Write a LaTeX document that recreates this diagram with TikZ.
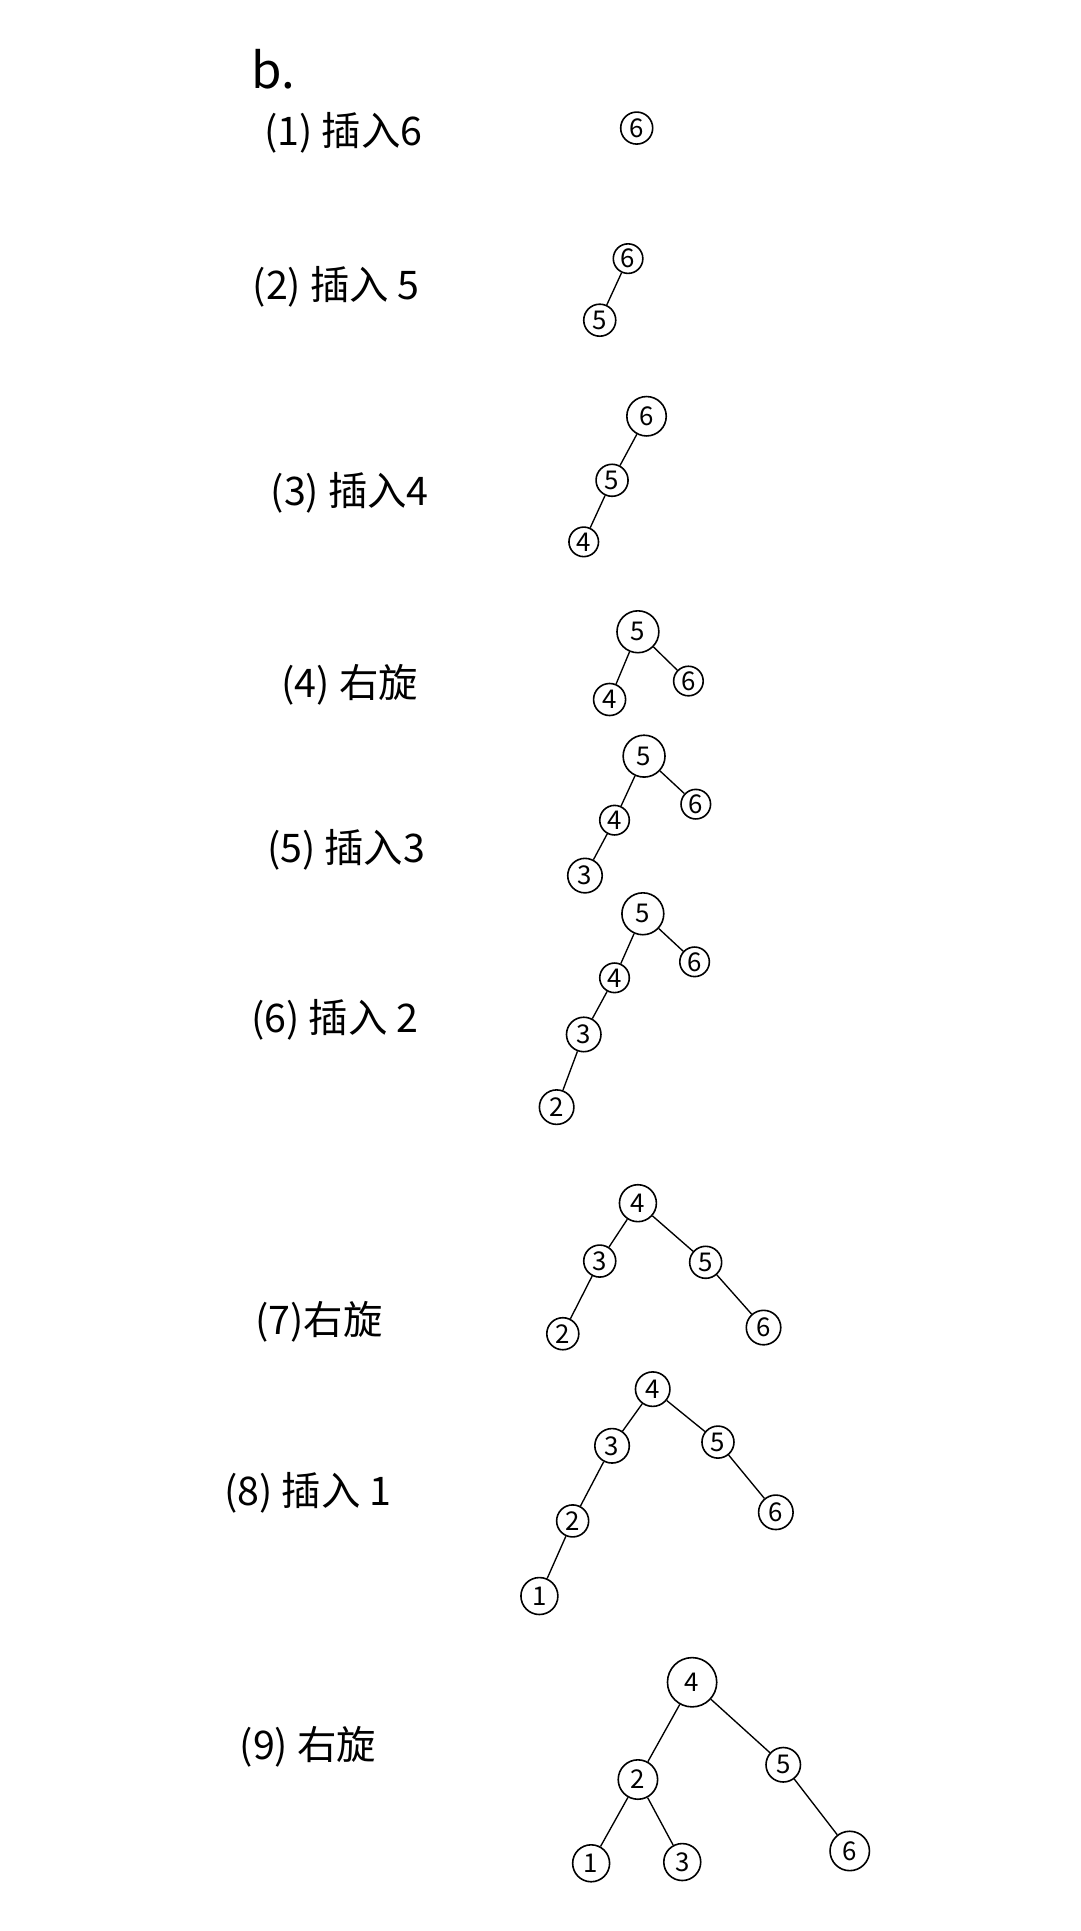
\documentclass[tikz,border=0pt]{standalone}
\usepackage{fontspec}
\setmainfont{Noto Sans CJK SC}
\newfontfamily\lblfont{Noto Sans CJK SC}
\begin{document}
\begin{tikzpicture}[x=1pt,y=-1pt,
  lbl/.style={font=\lblfont\fontsize{32}{36}\selectfont,inner sep=0pt},
  nd/.style={circle,draw,line width=1.3pt,inner sep=0pt,minimum size=#1,font=\lblfont\fontsize{21}{24}\selectfont},
  ed/.style={line width=1.1pt}]
\useasboundingbox[fill=white] (0,0) rectangle (877,1568);
% title
\node[font=\lblfont\fontsize{40}{44}\selectfont,inner sep=0pt] (title) at (222,56) {b.};
% (1)
\node[lbl] (l1) at (279,108) {(1) 插入6};
\node[nd=26pt] (a6) at (517,104) {6};
% (2)
\node[lbl] (l2) at (273,233) {(2) 插入 5};
\node[nd=24pt] (b6) at (510,210) {6};
\node[nd=26pt] (b5) at (487,260) {5};
\draw[ed] (b6) -- (b5);
% (3)
\node[lbl] (l3) at (284,400) {(3) 插入4};
\node[nd=32pt] (c6) at (525,338) {6};
\node[nd=26pt] (c5) at (497,390) {5};
\node[nd=24pt] (c4) at (474,440) {4};
\draw[ed] (c6) -- (c5);
\draw[ed] (c5) -- (c4);
% (4)
\node[lbl] (l4) at (284,556) {(4) 右旋};
\node[nd=34pt] (d5) at (518,513) {5};
\node[nd=26pt] (d4) at (495,568) {4};
\node[nd=24pt] (d6) at (559,553) {6};
\draw[ed] (d5) -- (d4);
\draw[ed] (d5) -- (d6);
% (5)
\node[lbl] (l5) at (281,690) {(5) 插入3};
\node[nd=34pt] (e5) at (523,614) {5};
\node[nd=24pt] (e6) at (565,653) {6};
\node[nd=24pt] (e4) at (499,666) {4};
\node[nd=28pt] (e3) at (475,711) {3};
\draw[ed] (e5) -- (e6);
\draw[ed] (e5) -- (e4);
\draw[ed] (e4) -- (e3);
% (6)
\node[lbl] (l6) at (272,828) {(6) 插入 2};
\node[nd=34pt] (f5) at (522,742) {5};
\node[nd=24pt] (f6) at (564,781) {6};
\node[nd=24pt] (f4) at (499,794) {4};
\node[nd=28pt] (f3) at (474,840) {3};
\node[nd=28pt] (f2) at (452,899) {2};
\draw[ed] (f5) -- (f6);
\draw[ed] (f5) -- (f4);
\draw[ed] (f4) -- (f3);
\draw[ed] (f3) -- (f2);
% (7)
\node[lbl] (l7) at (259,1073) {(7)右旋};
\node[nd=30pt] (g4) at (518,977) {4};
\node[nd=26pt] (g3) at (487,1024) {3};
\node[nd=26pt] (g5) at (573,1025) {5};
\node[nd=26pt] (g2) at (457,1083) {2};
\node[nd=28pt] (g6) at (620,1078) {6};
\draw[ed] (g4) -- (g3);
\draw[ed] (g4) -- (g5);
\draw[ed] (g3) -- (g2);
\draw[ed] (g5) -- (g6);
% (8)
\node[lbl] (l8) at (250,1212) {(8) 插入 1};
\node[nd=28pt] (h4) at (530,1128) {4};
\node[nd=28pt] (h3) at (497,1174) {3};
\node[nd=26pt] (h5) at (583,1171) {5};
\node[nd=26pt] (h2) at (465,1235) {2};
\node[nd=28pt] (h6) at (630,1228) {6};
\node[nd=30pt] (h1) at (438,1296) {1};
\draw[ed] (h4) -- (h3);
\draw[ed] (h4) -- (h5);
\draw[ed] (h3) -- (h2);
\draw[ed] (h5) -- (h6);
\draw[ed] (h2) -- (h1);
% (9)
\node[lbl] (l9) at (250,1418) {(9) 右旋};
\node[nd=40pt] (i4) at (562,1366) {4};
\node[nd=32pt] (i2) at (518,1445) {2};
\node[nd=28pt] (i5) at (636,1433) {5};
\node[nd=30pt] (i1) at (480,1513) {1};
\node[nd=30pt] (i3) at (554,1512) {3};
\node[nd=32pt] (i6) at (690,1503) {6};
\draw[ed] (i4) -- (i2);
\draw[ed] (i4) -- (i5);
\draw[ed] (i2) -- (i1);
\draw[ed] (i2) -- (i3);
\draw[ed] (i5) -- (i6);
\end{tikzpicture}
\end{document}
